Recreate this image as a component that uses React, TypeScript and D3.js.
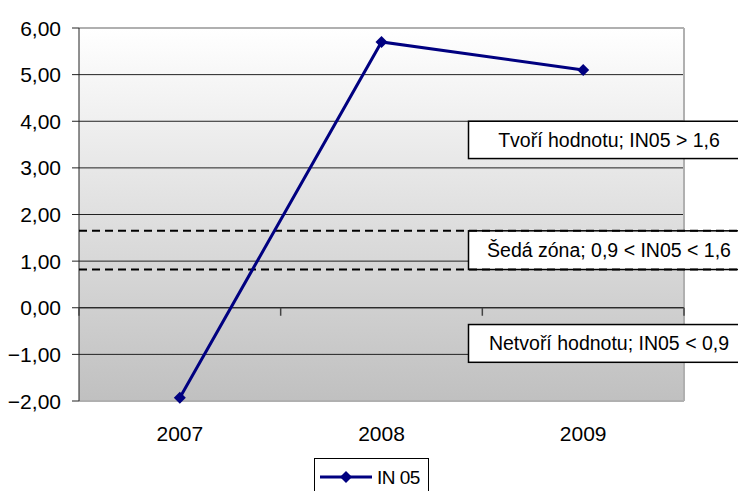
import React from "react";
import * as d3 from "d3";

const categories = ["2007", "2008", "2009"];
const seriesName = "IN 05";
const values = [-1.93, 5.7, 5.1];
const yTicks = [-2, -1, 0, 1, 2, 3, 4, 5, 6];
const thresholds = [1.65, 0.82];
const zoneLabels = [
  { text: "Tvoří hodnotu; IN05 > 1,6", top: 4.0, bottom: 3.2 },
  { text: "Šedá zóna; 0,9 < IN05 < 1,6", top: 1.65, bottom: 0.82 },
  { text: "Netvoří hodnotu; IN05 < 0,9", top: -0.36, bottom: -1.17 },
];

const W = 738;
const H = 491;
const left = 79;
const right = 684;
const top = 28;
const bottom = 401;

export default function App() {
  const x = d3.scaleBand<string>().domain(categories).range([left, right]);
  const y = d3.scaleLinear().domain([-2, 6]).range([bottom, top]);
  const fmt = (v: number) => d3.format(".2f")(v).replace(".", ",");
  const cx = (c: string) => (x(c) as number) + x.bandwidth() / 2;
  const line = d3
    .line<number>()
    .x((_, i) => cx(categories[i]))
    .y((d) => y(d));
  const font = "Arial, 'Liberation Sans', sans-serif";
  const diamond = (px: number, py: number, r: number) =>
    `M${px},${py - r}L${px + r},${py}L${px},${py + r}L${px - r},${py}Z`;
  const boundaries = d3.range(categories.length + 1).map((i) => left + i * x.bandwidth());

  return (
    <svg width={W} height={H} style={{ position: "absolute", left: 0, top: 0 }}>
      <defs>
        <linearGradient id="bg" x1="0" y1="0" x2="0" y2="1">
          <stop offset="0%" stopColor="#ffffff" />
          <stop offset="100%" stopColor="#c0c0c0" />
        </linearGradient>
      </defs>
      <rect x={0} y={0} width={W} height={H} fill="#fff" />
      <rect x={left} y={top} width={right - left} height={bottom - top} fill="url(#bg)" />
      {yTicks.map((t) => (
        <line
          key={t}
          x1={left}
          x2={right}
          y1={y(t)}
          y2={y(t)}
          stroke={t === 6 || t === -2 ? "#b0b0b0" : "#222"}
          strokeWidth={t === 6 || t === -2 ? 2 : 1}
        />
      ))}
      <line x1={right} x2={right} y1={top} y2={bottom} stroke="#b0b0b0" strokeWidth={2} />
      <line x1={left} x2={left} y1={top} y2={bottom} stroke="#222" strokeWidth={1} />
      {yTicks.map((t) => (
        <g key={"yt" + t}>
          <line x1={left - 7} x2={left} y1={y(t)} y2={y(t)} stroke="#222" />
          <text
            x={61}
            y={y(t)}
            dy="0.36em"
            textAnchor="end"
            fontFamily={font}
            fontSize={21}
            fill="#000"
          >
            {fmt(t)}
          </text>
        </g>
      ))}
      <line x1={left} x2={right} y1={y(0)} y2={y(0)} stroke="#222" />
      {boundaries.map((b, i) => (
        <line key={"xt" + i} x1={b} x2={b} y1={y(0)} y2={y(0) + 8} stroke="#444" strokeWidth={1.5} />
      ))}
      {categories.map((c) => (
        <text key={c} x={cx(c)} y={441} textAnchor="middle" fontFamily={font} fontSize={21} fill="#000">
          {c}
        </text>
      ))}
      {zoneLabels.map((z, i) => (
        <g key={"z" + i}>
          <rect
            x={468.5}
            y={y(z.top)}
            width={300}
            height={y(z.bottom) - y(z.top)}
            fill="#fff"
            stroke="#000"
            strokeWidth={1.5}
          />
          <text
            x={609}
            y={(y(z.top) + y(z.bottom)) / 2}
            dy="0.36em"
            textAnchor="middle"
            fontFamily={font}
            fontSize={19.5}
            fill="#000"
          >
            {z.text}
          </text>
        </g>
      ))}
      {thresholds.map((t) => (
        <line
          key={"th" + t}
          x1={left}
          x2={W}
          y1={y(t)}
          y2={y(t)}
          stroke="#000"
          strokeWidth={2}
          strokeDasharray="8,5"
        />
      ))}
      <path d={line(values) as string} fill="none" stroke="#000080" strokeWidth={3} />
      {values.map((v, i) => (
        <path key={"m" + i} d={diamond(cx(categories[i]), y(v), 6)} fill="#000080" />
      ))}
      <rect x={314.5} y={458.5} width={114} height={40} fill="#fff" stroke="#000" strokeWidth={1} />
      <line x1={320} x2={372} y1={477} y2={477} stroke="#000080" strokeWidth={3} />
      <path d={diamond(346, 477, 6)} fill="#000080" />
      <text x={377} y={477} dy="0.36em" fontFamily={font} fontSize={19} fill="#000" letterSpacing={-0.5}>
        {seriesName}
      </text>
    </svg>
  );
}
